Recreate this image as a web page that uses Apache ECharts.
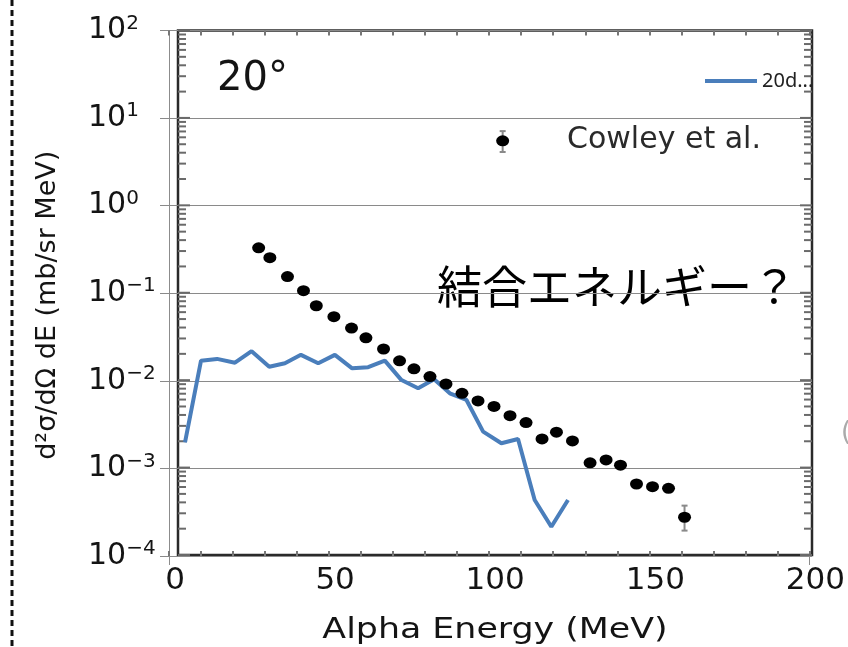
<!DOCTYPE html>
<html>
<head>
<meta charset="utf-8">
<script src="https://cdn.jsdelivr.net/npm/echarts@6/dist/echarts.min.js"></script>
<style>
html, body { margin: 0; padding: 0; background: #fff; }
#chart { width: 848px; height: 647px; }
</style>
</head>
<body>
<div id="chart"></div>
<script>
// Alpha energy tick labels (MeV) and decade exponents for the log axis
const energyTickLabels = [0, 50, 100, 150, 200];
const decadeExponents = ['−4', '−3', '−2', '−1', '0', '1', '2'];

// Cowley et al. measured double-differential cross sections at 20 degrees
const cowleyEnergy = [28, 31.5, 37, 42, 46, 51.5, 57, 61.5, 67, 72, 76.5, 81.5, 86.5, 91.5,
  96.5, 101.5, 106.5, 111.5, 116.5, 121, 126, 131.5, 136.5, 141, 146, 151, 156, 161];
const cowleyXsec = [0.33, 0.255, 0.155, 0.107, 0.072, 0.054, 0.040, 0.031, 0.0231, 0.0169,
  0.0137, 0.0112, 0.0092, 0.0072, 0.0059, 0.0051, 0.0040, 0.00334, 0.00217, 0.00259,
  0.00206, 0.00116, 0.00125, 0.00109, 0.000664, 0.000619, 0.000593, 0.000277];
// error bar on the last measured point: [energy, low, high]
const cowleyErrors = [[161, 0.000195, 0.000376]];
// key symbol beside the "Cowley et al." label: [energy, value, low, high]
const cowleyKey = [[104.2, 5.5, 4.1, 7.1]];

// calculated 20 degree spectrum
const calcEnergy = [5, 10, 15, 20.6, 25.8, 31.3, 36.2, 41.2, 46.6, 51.8, 57.2, 62.2, 67.4,
  72.6, 77.8, 82.8, 87.7, 92.9, 98.1, 103.8, 109, 114.2, 119.4, 124.6];
const calcXsec = [0.00198, 0.0170, 0.0178, 0.0161, 0.0218, 0.0145, 0.0159, 0.0198, 0.0159,
  0.0198, 0.0139, 0.0143, 0.0170, 0.0102, 0.00822, 0.0104, 0.00721, 0.00605, 0.00263,
  0.00194, 0.00217, 0.000436, 0.000216, 0.000436];

// frame ticks on the log axis: every 1..9 x 10^k
const frameTicks = [];
for (let k = -4; k <= 2; k++) {
  for (let m = 1; m <= 9; m++) {
    const v = m * Math.pow(10, k);
    if (v > 100.0001) break;
    frameTicks.push([0.5, v, m === 1 ? 1 : 0]);
  }
}

const helv = '"DejaVu Sans", "Liberation Sans", sans-serif';
const ink = '#141414';
const chart = echarts.init(document.getElementById('chart'));

const option = {
  animation: false,
  backgroundColor: '#fff',
  grid: [
    { left: 169, right: 38, top: 30.5, bottom: 91 },
    { left: 160, right: 36, top: 30.5, bottom: 91 },
    { left: 178, right: 36, top: 30.5, bottom: 92, show: true, borderColor: '#2a2a2a', borderWidth: 2.5, backgroundColor: 'transparent' }
  ],
  legend: {
    data: [{ name: '20deg', icon: 'rect' }],
    left: 705, top: 71, padding: 0,
    itemWidth: 52, itemHeight: 4, itemGap: 4,
    textStyle: { fontFamily: '"Noto Sans", "Open Sans", sans-serif', fontSize: 20, color: '#222', width: 58, overflow: 'truncate', ellipsis: '...' }
  },
  xAxis: [
    { gridIndex: 0, type: 'value', min: 0, max: 200, interval: 200,
      axisLine: { show: true, lineStyle: { color: '#8c8c8c', width: 1 } },
      axisTick: { show: true, inside: false, length: 9, lineStyle: { color: '#8c8c8c' } },
      axisLabel: { show: false }, splitLine: { show: false } },
    { gridIndex: 0, type: 'value', min: 0, max: 200, interval: 10, position: 'bottom',
      axisLine: { show: false },
      axisTick: { show: true, inside: true, length: 5, lineStyle: { color: '#777', width: 2 } },
      axisLabel: { show: true, margin: 9, padding: [0, 0, 0, 12], fontFamily: helv, fontSize: 31, color: ink,
        formatter: v => energyTickLabels.indexOf(v) >= 0 ? String(v) : '' },
      splitLine: { show: false } },
    { gridIndex: 0, type: 'value', min: 0, max: 200, interval: 10, position: 'top',
      axisLine: { show: false },
      axisTick: { show: true, inside: true, length: 5, lineStyle: { color: '#777', width: 2 } },
      axisLabel: { show: false }, splitLine: { show: false } },
    { gridIndex: 1, type: 'value', min: 0, max: 1, show: false },
    { gridIndex: 2, type: 'value', min: 0, max: 1, show: false }
  ],
  yAxis: [
    { gridIndex: 0, type: 'log', logBase: 10, min: 1e-4, max: 1e2,
      axisLine: { show: true, lineStyle: { color: '#8c8c8c', width: 1 } },
      axisTick: { show: false },
      splitLine: { show: false },
      axisLabel: {
        show: true, align: 'left', margin: 81,
        formatter: v => {
          const i = Math.round(Math.log10(v)) + 4;
          return '{b|10}{s|' + decadeExponents[i] + '}';
        },
        rich: {
          b: { fontFamily: helv, fontSize: 30, color: ink, lineHeight: 34 },
          s: { fontFamily: helv, fontSize: 20, color: ink, verticalAlign: 'top', lineHeight: 20 }
        }
      },
      name: 'd²σ/dΩ dE (mb/sr MeV)', nameLocation: 'middle', nameGap: 108,
      nameTextStyle: { fontFamily: helv, fontSize: 27, color: ink, padding: [0, 24, 0, 0] } },
    { gridIndex: 1, type: 'log', logBase: 10, min: 1e-4, max: 1e2,
      axisLine: { show: false }, axisTick: { show: false }, axisLabel: { show: false },
      splitLine: { show: true, lineStyle: { color: '#8a8a8a', width: 1 } } },
    { gridIndex: 2, type: 'log', logBase: 10, min: 1e-4, max: 1e2, show: false }
  ],
  series: [
    {
      type: 'custom', name: 'frameTicks', xAxisIndex: 4, yAxisIndex: 2,
      data: frameTicks, encode: { x: 0, y: 1 }, silent: true, clip: false,
      renderItem: (params, api) => {
        const cs = params.coordSys;
        const y = api.coord([0.5, api.value(1)])[1];
        const len = api.value(2) ? 12 : 8;
        const st = { stroke: '#6a6a6a', lineWidth: 2 };
        return { type: 'group', children: [
          { type: 'line', shape: { x1: cs.x, y1: y, x2: cs.x + len, y2: y }, style: st },
          { type: 'line', shape: { x1: cs.x + cs.width - len, y1: y, x2: cs.x + cs.width, y2: y }, style: st }
        ] };
      }
    },
    {
      type: 'line', name: '20deg', xAxisIndex: 0, yAxisIndex: 0,
      data: calcEnergy.map((e, i) => [e, calcXsec[i]]),
      symbol: 'none', lineStyle: { color: '#4a7ebb', width: 4 }, itemStyle: { color: '#4a7ebb' }, z: 3
    },
    {
      type: 'custom', name: 'cowleyErr', xAxisIndex: 0, yAxisIndex: 0,
      data: cowleyErrors.concat(cowleyKey.map(k => [k[0], k[2], k[3]])),
      encode: { x: 0, y: [1, 2] }, silent: true, z: 4,
      renderItem: (params, api) => {
        const lo = api.coord([api.value(0), api.value(1)]);
        const hi = api.coord([api.value(0), api.value(2)]);
        const st = { stroke: '#8a8a8a', lineWidth: 2 };
        return { type: 'group', children: [
          { type: 'line', shape: { x1: lo[0], y1: lo[1], x2: hi[0], y2: hi[1] }, style: st },
          { type: 'line', shape: { x1: lo[0] - 3, y1: lo[1], x2: lo[0] + 3, y2: lo[1] }, style: st },
          { type: 'line', shape: { x1: hi[0] - 3, y1: hi[1], x2: hi[0] + 3, y2: hi[1] }, style: st }
        ] };
      }
    },
    {
      type: 'scatter', name: 'Cowley et al.', xAxisIndex: 0, yAxisIndex: 0,
      data: cowleyEnergy.map((e, i) => [e, cowleyXsec[i]]).concat(cowleyKey.map(k => [k[0], k[1]])),
      symbol: 'circle', symbolSize: [13, 11], itemStyle: { color: '#000', opacity: 1 }, z: 5
    }
  ],
  graphic: [
    { type: 'line', shape: { x1: 12, y1: 0, x2: 12, y2: 647 }, style: { stroke: '#111', lineWidth: 3, lineDash: [6, 4] } },
    { type: 'text', x: 217, y: 80, style: { text: '20°', font: '40px "DejaVu Sans"', fill: ink, textAlign: 'left', textVerticalAlign: 'middle' } },
    { type: 'text', x: 567, y: 140, style: { text: 'Cowley et al.', font: '30px "DejaVu Sans"', fill: '#2a2a2a', textAlign: 'left', textVerticalAlign: 'middle' } },
    { type: 'text', x: 437, y: 287, style: { text: '結合エネルギー？', font: '45px "Noto Sans CJK JP"', fill: '#000', textAlign: 'left', textVerticalAlign: 'middle' } },
    { type: 'text', x: 495, y: 630, scaleX: 1.2, style: { text: 'Alpha Energy (MeV)', font: '29px "DejaVu Sans"', fill: ink, textAlign: 'center', textVerticalAlign: 'middle' } },
    { type: 'text', x: 841, y: 433, style: { text: '(', font: '26px "DejaVu Sans"', fill: '#aaa', textAlign: 'left', textVerticalAlign: 'middle' } }
  ]
};

chart.setOption(option);
</script>
</body>
</html>
